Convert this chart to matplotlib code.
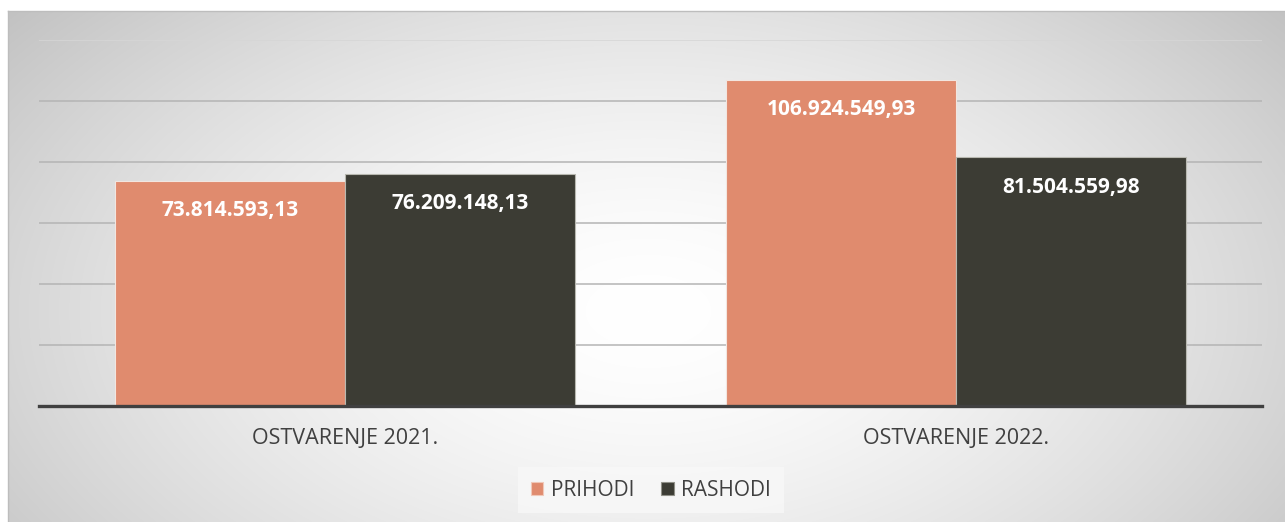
import numpy as np
import matplotlib
matplotlib.use("Agg")
import matplotlib.pyplot as plt
from matplotlib.patches import Patch

categories = ["OSTVARENJE 2021.", "OSTVARENJE 2022."]
series_names = ["PRIHODI", "RASHODI"]
prihodi = [73814593.13, 106924549.93]
rashodi = [76209148.13, 81504559.98]
label_texts = [["73.814.593,13", "106.924.549,93"], ["76.209.148,13", "81.504.559,98"]]
colors = ["#E08B6E", "#3C3C34"]

W, H = 1285, 522
fig = plt.figure(figsize=(W / 100, H / 100), dpi=100)
fig.patch.set_facecolor("white")

# background gradient panel
fx0, fy0 = 8, 11
bg = fig.add_axes([fx0 / W, 0, 1 - fx0 / W, 1 - fy0 / H])
bw, bh = W - fx0, H - fy0
xx, yy = np.meshgrid(np.arange(bw), np.arange(bh))
dx = (xx - 640) / 720.0
dy = (yy - 300) / 420.0
r = np.clip(np.sqrt(dx ** 2 + dy ** 2), 0, 1.15)
val = (255 - 62 * (r ** 1.6) / (1.15 ** 1.6)) / 255.0
img = np.dstack([val, val, val])
bg.imshow(img, aspect="auto", extent=[0, bw, bh, 0], interpolation="bilinear")
bg.set_xlim(0, bw)
bg.set_ylim(bh, 0)
bg.set_xticks([])
bg.set_yticks([])
for s in bg.spines.values():
    s.set_color("#bdbdbd")
    s.set_linewidth(1.0)
bg.spines["right"].set_visible(False)
bg.spines["bottom"].set_visible(False)

# main axes
left, right, top, base = 39, 1262, 40, 406
ax = fig.add_axes([left / W, 1 - base / H, (right - left) / W, (base - top) / H])
ax.patch.set_alpha(0)
x = np.arange(len(categories))
bw_ = 0.376
vals = [prihodi, rashodi]
for i, (v, c) in enumerate(zip(vals, colors)):
    pos = x + (i - 0.5) * bw_
    bars = ax.bar(pos, v, width=bw_, color=c, edgecolor="#f2e6e0" if i == 0 else "#b8b8b0",
                  linewidth=0.8, zorder=3)
    for b, t in zip(bars, label_texts[i]):
        ax.annotate(t, (b.get_x() + b.get_width() / 2, b.get_height()),
                    xytext=(0, -30), textcoords="offset pixels", ha="center", va="center",
                    color="white", fontsize=15, fontweight="bold", family="Open Sans", zorder=4)

ax.set_xlim(-0.5, 1.5)
ax.set_ylim(0, 120e6)
for yv in np.arange(20e6, 121e6, 20e6):
    ax.axhline(yv, color="#b4b4b4" if yv < 120e6 else "#d6d6d6", linewidth=1.1, zorder=1)
ax.axhline(0, color="#404040", linewidth=2.4, zorder=5, clip_on=False)
for s in ax.spines.values():
    s.set_visible(False)
ax.set_yticks([])
ax.set_xticks(x)
ax.set_xticklabels(categories, family="Open Sans", fontsize=15.5, color="#404040")
ax.tick_params(axis="x", length=0, pad=16)

handles = [Patch(facecolor=c, edgecolor="#f0c8b8" if i == 0 else "#909088", linewidth=0.8)
           for i, c in enumerate(colors)]
leg = fig.legend(handles, series_names, loc="center", bbox_to_anchor=(651 / W, 1 - 490 / H),
                 ncol=2, frameon=True, fancybox=False, handlelength=0.6, handleheight=0.6,
                 handletextpad=0.35, columnspacing=1.3, borderpad=0.6,
                 prop={"family": "Open Sans", "size": 15})
leg.get_frame().set_facecolor("#f8f8f8")
leg.get_frame().set_edgecolor("none")
for t in leg.get_texts():
    t.set_color("#404040")

fig.savefig("out.png", dpi=100)
